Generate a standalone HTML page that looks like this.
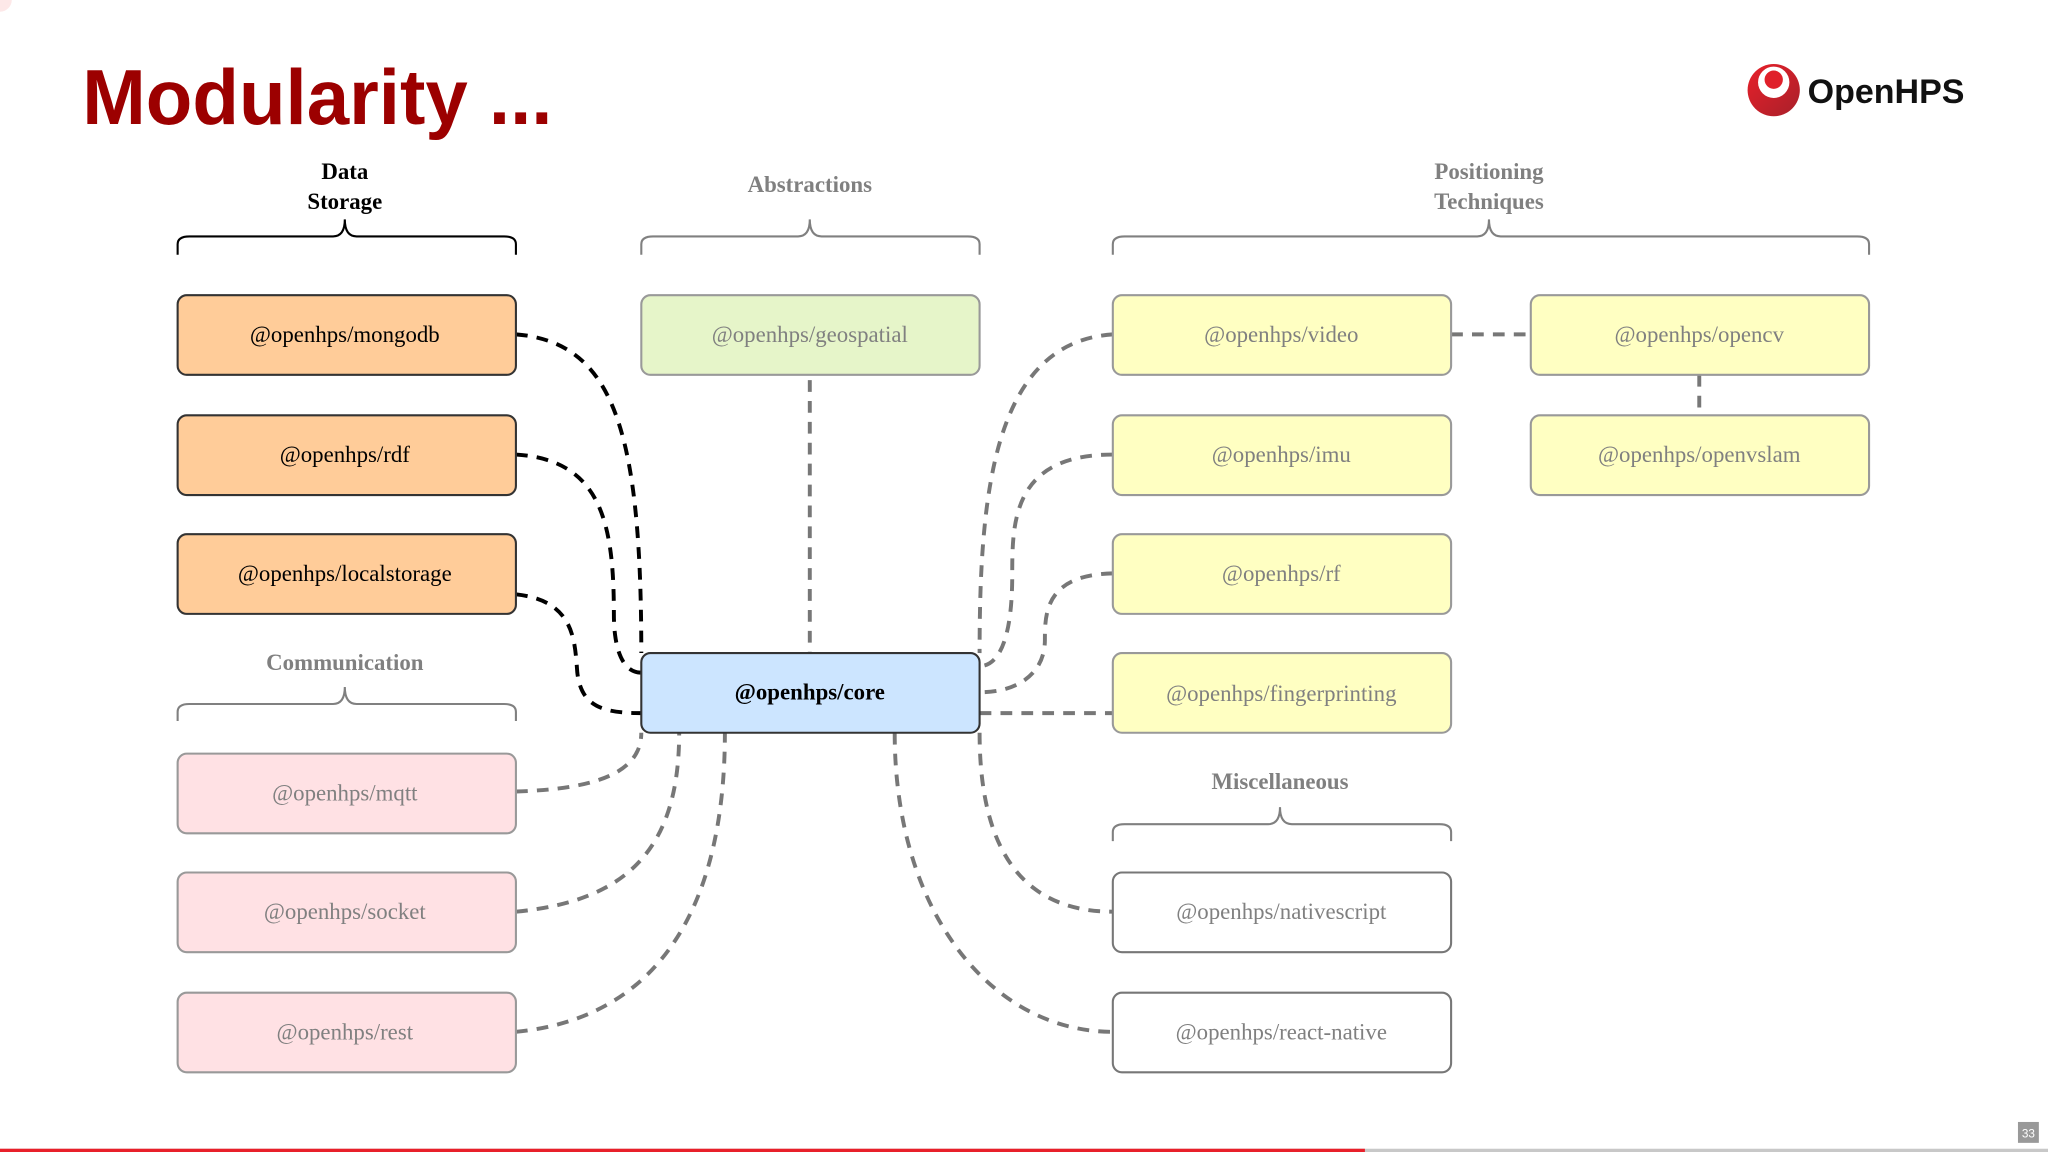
<!DOCTYPE html>
<html><head><meta charset="utf-8"><style>
html,body{margin:0;padding:0;background:#fff;}
svg{display:block;}
.n{font-family:"Liberation Serif",serif;font-size:17.5px;text-anchor:middle;dominant-baseline:central;}
.g{fill:#808080;}
.h{font-family:"Liberation Serif",serif;font-size:17.5px;font-weight:bold;text-anchor:middle;}
</style></head><body>
<svg width="2048" height="1152" viewBox="0 0 1568 882" xmlns="http://www.w3.org/2000/svg">
<defs>
<linearGradient id="lg" x1="0" y1="0" x2="1" y2="1"><stop offset="0" stop-color="#e8202a"/><stop offset="1" stop-color="#a8202a"/></linearGradient>
</defs>
<rect width="1568" height="882" fill="#fff"/>
<circle cx="0" cy="0" r="9" fill="#fde8e8"/>
<text x="63" y="95" font-family="'Liberation Sans Narrow','Liberation Sans',sans-serif" font-weight="bold" font-size="60" fill="#9c0000" textLength="360" lengthAdjust="spacingAndGlyphs">Modularity ...</text>
<!-- logo -->
<circle cx="1358" cy="69" r="20" fill="url(#lg)"/>
<circle cx="1358" cy="63" r="12" fill="#fff"/>
<circle cx="1358" cy="61" r="7" fill="#e0202a"/>
<text x="1384" y="79" font-family="'Liberation Sans',sans-serif" font-weight="bold" font-size="26" fill="#111" textLength="120" lengthAdjust="spacingAndGlyphs">OpenHPS</text>

<!-- headers -->
<text class="h" x="264" y="137" fill="#000">Data</text>
<text class="h" x="264" y="160" fill="#000">Storage</text>
<text class="h g" x="620" y="147">Abstractions</text>
<text class="h g" x="1140" y="137">Positioning</text>
<text class="h g" x="1140" y="160">Techniques</text>
<text class="h g" x="264" y="513">Communication</text>
<text class="h g" x="980" y="604">Miscellaneous</text>

<!-- braces -->
<g fill="none" stroke-width="1.6">
<path d="M136 195 V187 Q136 181 145 181 H255 Q264 181 264 168 Q264 181 273 181 H386 Q395 181 395 187 V195" stroke="#000"/>
<path d="M491 195 V187 Q491 181 500 181 H611 Q620 181 620 168 Q620 181 629 181 H741 Q750 181 750 187 V195" stroke="#808080"/>
<path d="M852 195 V187 Q852 181 861 181 H1131 Q1140 181 1140 168 Q1140 181 1149 181 H1422 Q1431 181 1431 187 V195" stroke="#808080"/>
<path d="M136 552 V545 Q136 539 145 539 H255 Q264 539 264 526 Q264 539 273 539 H386 Q395 539 395 545 V552" stroke="#808080"/>
<path d="M852 644 V637 Q852 631 861 631 H971 Q980 631 980 618 Q980 631 989 631 H1102 Q1111 631 1111 637 V644" stroke="#808080"/>
</g>

<!-- connectors -->
<g fill="none" stroke-width="3" stroke-dasharray="9,7">
<g stroke="#000">
<path d="M395 256 C470 262 491 330 491 500"/>
<path d="M395 348 C460 352 470 400 470 470 C470 500 478 515 491 515"/>
<path d="M395 455 C440 460 440 490 442 515 C445 540 460 546 491 546"/>
</g>
<g stroke="#777">
<path d="M395 606 C460 604 491 590 491 561"/>
<path d="M395 698 C480 690 520 650 520 561"/>
<path d="M395 790 C500 780 555 700 555 561"/>
<path d="M620 291 V500"/>
<path d="M852 256 C760 262 750 380 750 500"/>
<path d="M852 348 C775 348 775 400 775 440 C775 500 760 510 750 510"/>
<path d="M852 439 C800 440 800 470 800 490 C800 515 780 530 750 530"/>
<path d="M750 546 H852"/>
<path d="M750 561 C750 660 790 698 852 698"/>
<path d="M685 561 C685 700 760 790 852 790"/>
<path d="M1111 256 H1172"/>
<path d="M1301 287 V318"/>
</g>
</g>

<!-- nodes -->
<g stroke-width="1.6">
<rect x="136" y="226" width="259" height="61" rx="7" fill="#ffcc99" stroke="#333"/>
<rect x="136" y="318" width="259" height="61" rx="7" fill="#ffcc99" stroke="#333"/>
<rect x="136" y="409" width="259" height="61" rx="7" fill="#ffcc99" stroke="#333"/>
<rect x="136" y="577" width="259" height="61" rx="7" fill="#ffe1e4" stroke="#999"/>
<rect x="136" y="668" width="259" height="61" rx="7" fill="#ffe1e4" stroke="#999"/>
<rect x="136" y="760" width="259" height="61" rx="7" fill="#ffe1e4" stroke="#999"/>
<rect x="491" y="226" width="259" height="61" rx="7" fill="#e6f5c9" stroke="#999"/>
<rect x="491" y="500" width="259" height="61" rx="7" fill="#cce5ff" stroke="#333"/>
<rect x="852" y="226" width="259" height="61" rx="7" fill="#ffffc2" stroke="#999"/>
<rect x="852" y="318" width="259" height="61" rx="7" fill="#ffffc2" stroke="#999"/>
<rect x="852" y="409" width="259" height="61" rx="7" fill="#ffffc2" stroke="#999"/>
<rect x="852" y="500" width="259" height="61" rx="7" fill="#ffffc2" stroke="#999"/>
<rect x="1172" y="226" width="259" height="61" rx="7" fill="#ffffc2" stroke="#999"/>
<rect x="1172" y="318" width="259" height="61" rx="7" fill="#ffffc2" stroke="#999"/>
<rect x="852" y="668" width="259" height="61" rx="7" fill="#fff" stroke="#777"/>
<rect x="852" y="760" width="259" height="61" rx="7" fill="#fff" stroke="#777"/>
</g>
<text class="n" x="264" y="256">@openhps/mongodb</text>
<text class="n" x="264" y="348">@openhps/rdf</text>
<text class="n" x="264" y="439">@openhps/localstorage</text>
<text class="n g" x="264" y="607">@openhps/mqtt</text>
<text class="n g" x="264" y="698">@openhps/socket</text>
<text class="n g" x="264" y="790">@openhps/rest</text>
<text class="n g" x="620" y="256">@openhps/geospatial</text>
<text class="n" x="620" y="530" font-weight="bold">@openhps/core</text>
<text class="n g" x="981" y="256">@openhps/video</text>
<text class="n g" x="981" y="348">@openhps/imu</text>
<text class="n g" x="981" y="439">@openhps/rf</text>
<text class="n g" x="981" y="531" font-size="16.5">@openhps/fingerprinting</text>
<text class="n g" x="1301" y="256">@openhps/opencv</text>
<text class="n g" x="1301" y="348">@openhps/openvslam</text>
<text class="n g" x="981" y="698">@openhps/nativescript</text>
<text class="n g" x="981" y="790">@openhps/react-native</text>

<!-- footer -->
<rect x="0" y="879.5" width="1568" height="2.5" fill="#c8c8c8"/>
<rect x="0" y="879.5" width="1045" height="2.5" fill="#e8202a"/>
<rect x="1545" y="859" width="16" height="16" fill="#999"/>
<text x="1553" y="871" font-family="'Liberation Sans',sans-serif" font-size="9" fill="#fff" text-anchor="middle">33</text>
</svg>
</body></html>
